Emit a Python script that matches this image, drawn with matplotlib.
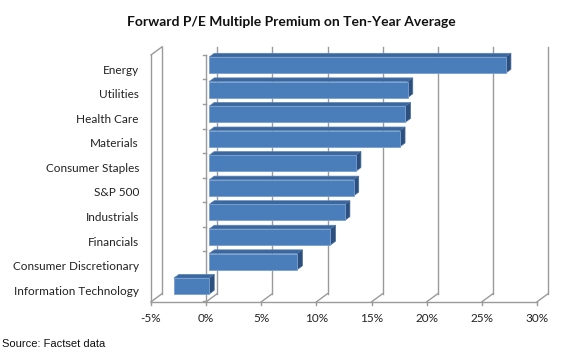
import numpy as np
import matplotlib
matplotlib.use("Agg")
import matplotlib.pyplot as plt
from matplotlib.patches import Polygon

# sector premiums (%), top to bottom
sectors = ['Energy', 'Utilities', 'Health Care', 'Materials', 'Consumer Staples',
           'S&P 500', 'Industrials', 'Financials', 'Consumer Discretionary',
           'Information Technology']
premium = [26.9, 18.0, 17.8, 17.3, 13.3, 13.1, 12.3, 11.0, 8.0, -3.2]
xticks = [-5, 0, 5, 10, 15, 20, 25, 30]
xticklabels = ['-5%', '0%', '5%', '10%', '15%', '20%', '25%', '30%']

# fake 3D depth (in data units)
DX = 1.0
DY = 0.33
FLOOR = 9.55
TOP = -0.5
BAR_H = 0.65
D0, D1 = 0.27, 0.73

GRID = '#9a9a9a'
FRONT = '#4a7ebb'
TOPC = '#3b679f'
SIDE = '#2c4f7e'

font = 'Lato'

fig = plt.figure(figsize=(5.8, 3.59), dpi=100)
ax = fig.add_axes([0.2547, 0.1457, 0.696, 0.7287])
ax.set_xlim(-5.3, 31.3)
ax.set_ylim(9.75, -0.9)
ax.axis('off')


def p(x, y, d):
    return (x + d * DX, y - d * DY)


# back wall gridlines and floor lines
for x in xticks:
    bx, by = p(x, FLOOR, 1)
    tx, ty = p(x, TOP, 1)
    ax.plot([bx, tx], [by, ty], color=GRID, lw=1, zorder=1, clip_on=False)
    ax.plot([x, bx], [FLOOR, by], color=GRID, lw=1, zorder=1, clip_on=False)
    ax.plot([x, x], [FLOOR, FLOOR + 0.15], color=GRID, lw=1, zorder=1, clip_on=False)

ax.plot([xticks[0], xticks[-1]], [FLOOR, FLOOR], color=GRID, lw=1, zorder=1, clip_on=False)
# side wall
ax.plot([-5, -5], [FLOOR, TOP], color=GRID, lw=1, zorder=1, clip_on=False)
tx, ty = p(-5, TOP, 1)
ax.plot([-5, tx], [TOP, ty], color=GRID, lw=1, zorder=1, clip_on=False)

# category axis at 0
ax.plot([0, 0], [TOP, FLOOR], color=GRID, lw=1, zorder=2, clip_on=False)
for k in range(len(sectors) + 1):
    yb = TOP + k
    ax.plot([-0.3, 0], [yb, yb], color=GRID, lw=1, zorder=2, clip_on=False)

# bars
for i, v in enumerate(premium):
    y0 = i - BAR_H / 2
    y1 = i + BAR_H / 2
    lo, hi = min(0, v), max(0, v)
    front = [p(lo, y0, D0), p(hi, y0, D0), p(hi, y1, D0), p(lo, y1, D0)]
    top = [p(lo, y0, D0), p(hi, y0, D0), p(hi, y0, D1), p(lo, y0, D1)]
    side = [p(hi, y0, D0), p(hi, y0, D1), p(hi, y1, D1), p(hi, y1, D0)]
    ax.add_patch(Polygon(top, closed=True, fc=TOPC, ec='#5d86b8', lw=0.5, zorder=3))
    ax.add_patch(Polygon(side, closed=True, fc=SIDE, ec='#4a6f9c', lw=0.5, zorder=3))
    ax.add_patch(Polygon(front, closed=True, fc=FRONT, ec='#7aa0cf', lw=0.6, zorder=4))

# labels
for i, s in enumerate(sectors):
    ax.text(-6.1, i + 0.12, s, ha='right', va='center', fontsize=8.5,
            family=font, color='#222222', clip_on=False)
for x, lab in zip(xticks, xticklabels):
    ax.text(x, FLOOR + 0.7, lab, ha='center', va='center', fontsize=8.5,
            family=font, color='#222222', clip_on=False)

fig.text(0.502, 0.94, 'Forward P/E Multiple Premium on Ten-Year Average',
         ha='center', va='center', fontsize=10, fontweight='bold', family=font,
         color='#111111')
fig.text(0.004, 0.042, 'Source: Factset data', ha='left', va='center',
         fontsize=8, family='Liberation Sans', color='#111111')

fig.savefig('out.png', dpi=100)
